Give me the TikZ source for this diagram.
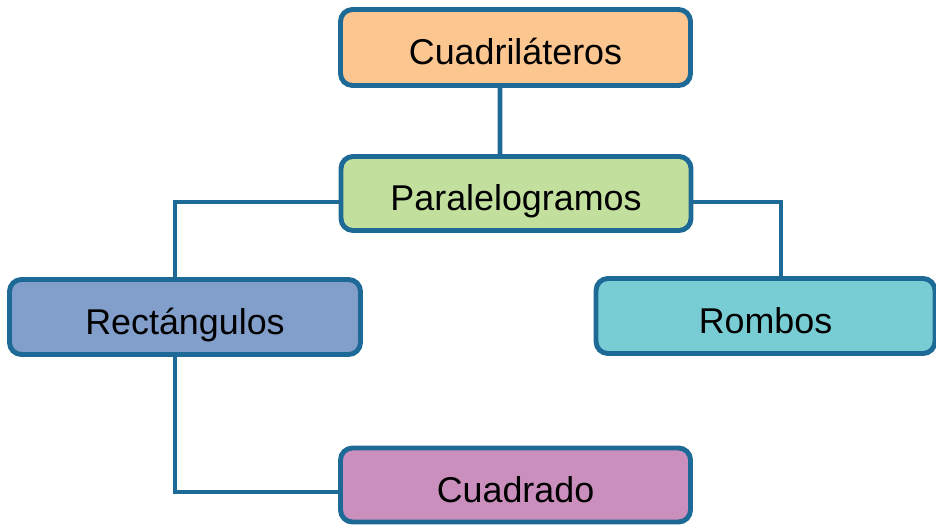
\documentclass[tikz,border=0pt]{standalone}
\usepackage{fontspec}
\setmainfont{Liberation Sans}
\usepackage{xcolor}

\definecolor{edgeblue}{HTML}{1E6A96}
\definecolor{boxorange}{HTML}{FBC68F}
\definecolor{boxgreen}{HTML}{C2DF9D}
\definecolor{boxblue}{HTML}{829FCB}
\definecolor{boxcyan}{HTML}{78CDD5}
\definecolor{boxpink}{HTML}{CB8FBE}

\tikzset{
    concept/.style={draw=edgeblue, line width=1.4pt, rounded corners=0.12cm,
        minimum width=3.5cm, minimum height=0.75cm, inner sep=0pt,
        text height=11pt, text depth=1.2pt,
        font=\fontsize{10.2}{12}\selectfont},
    link/.style={draw=edgeblue, line width=1.3pt}
}

\begin{document}
\begin{tikzpicture}
    \useasboundingbox (0,0) rectangle (9.36,-5.26);

    % Top level
    \node[concept, fill=boxorange, minimum height=0.76cm] (cuadri) at (5.155,-0.475) {Cuadriláteros};

    % Second level
    \node[concept, fill=boxgreen, minimum height=0.74cm] (paralelo) at (5.16,-1.935) {Paralelogramos};

    % Third level
    \node[concept, fill=boxblue, minimum width=3.51cm] (rectan) at (1.85,-3.17) {Rectángulos};
    \node[concept, fill=boxcyan, minimum width=3.39cm] (rombos) at (7.655,-3.16) {Rombos};

    % Bottom level
    \node[concept, fill=boxpink, minimum height=0.74cm] (cuadrado) at (5.155,-4.85) {Cuadrado};

    % Connectors
    \draw[link] ([xshift=-0.155cm]cuadri.south) -- ([xshift=-0.16cm]paralelo.north);
    \draw[link] ([yshift=-0.085cm]paralelo.west) -| ([xshift=-0.1cm]rectan.north);
    \draw[link] ([yshift=-0.085cm]paralelo.east) -| ([xshift=0.155cm]rombos.north);
    \draw[link] ([xshift=-0.1cm]rectan.south) |- ([yshift=-0.07cm]cuadrado.west);
\end{tikzpicture}
\end{document}
